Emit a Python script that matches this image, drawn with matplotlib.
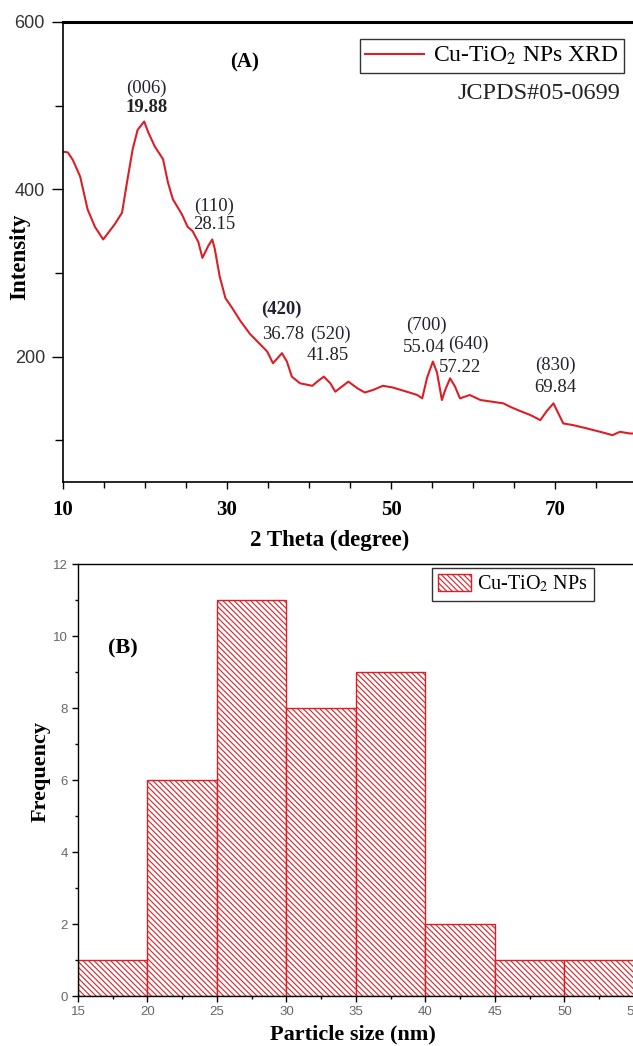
import matplotlib
matplotlib.use("Agg")
import matplotlib.pyplot as plt
from matplotlib.ticker import MultipleLocator

plt.rcParams['font.family'] = ['Liberation Serif', 'DejaVu Serif']
plt.rcParams['mathtext.fontset'] = 'stix'
plt.rcParams['hatch.linewidth'] = 0.8

# XRD pattern (2 theta in degree, intensity)
two_theta = [10.0, 10.6, 11.2, 11.7, 12.1, 13.0, 13.9, 14.9, 16.3, 17.2, 17.8,
             18.5, 19.1, 19.9, 20.4, 21.2, 22.2, 22.8, 23.4, 24.5, 25.2, 25.8,
             26.5, 27.0, 27.7, 28.2, 28.5, 29.1, 29.8, 30.7, 31.6, 32.8, 33.7,
             34.9, 35.6, 36.7, 37.3, 37.9, 38.9, 40.4, 41.0, 41.8, 42.6, 43.2,
             44.0, 44.8, 45.9, 46.8, 47.8, 49.0, 50.2, 51.9, 53.2, 53.8, 54.4,
             55.1, 55.6, 56.2, 56.6, 57.2, 57.8, 58.4, 59.6, 60.9, 62.3, 63.7,
             64.5, 65.7, 67.0, 68.2, 69.0, 69.8, 70.4, 71.0, 72.2, 73.9, 75.5,
             77.0, 77.9, 79.1, 80.0]
intensity = [445, 444, 435, 424, 415, 376, 355, 340, 358, 372, 408,
             448, 471, 481, 468, 451, 436, 408, 388, 370, 355, 350,
             337, 318, 332, 340, 329, 296, 270, 257, 243, 227, 218,
             206, 192, 204, 194, 176, 168, 165, 170, 176, 168, 158,
             164, 170, 162, 157, 160, 165, 163, 158, 154, 150, 175,
             194, 181, 148, 160, 174, 164, 150, 154, 148, 146, 144,
             140, 135, 130, 124, 135, 144, 132, 120, 118, 114, 110,
             106, 110, 108, 108]

# peak labels: (hkl) and position text, with where they sit
peak_hkl = ['(006)', '(110)', '(420)', '(520)', '(700)', '(640)', '(830)']
peak_val = ['19.88', '28.15', '36.78', '41.85', '55.04', '57.22', '69.84']
hkl_x = [20.2, 28.4, 36.6, 42.6, 54.3, 59.4, 70.1]
hkl_y = [521, 380, 256, 226, 237, 215, 189]
val_x = [20.2, 28.4, 36.9, 42.3, 54.0, 58.4, 70.0]
val_y = [498, 358, 226, 201, 211, 187, 163]
hkl_bold = [False, False, True, False, False, False, False]
val_bold = [True, False, False, False, False, False, False]

# particle size histogram
bin_left = [15, 20, 25, 30, 35, 40, 45, 50]
counts = [1, 6, 11, 8, 9, 2, 1, 1]
bin_width = 5

red = '#dc1f26'

fig = plt.figure(figsize=(6.33, 10.46), dpi=100)

# ---------- (A) XRD ----------
ax1 = fig.add_axes([0.0995, 0.5392, 0.907, 0.4398])
ax1.plot(two_theta, intensity, color=red, lw=1.5, label='Cu-TiO$_2$ NPs XRD')
ax1.set_xlim(10, 80)
ax1.set_ylim(50, 600)
ax1.set_xticks([10, 30, 50, 70])
ax1.xaxis.set_minor_locator(MultipleLocator(5))
ax1.yaxis.set_major_locator(MultipleLocator(200))
ax1.yaxis.set_minor_locator(MultipleLocator(100))
ax1.spines['right'].set_visible(False)
ax1.spines['top'].set_linewidth(2.2)
ax1.spines['left'].set_linewidth(1.2)
ax1.spines['bottom'].set_linewidth(1.2)
ax1.tick_params(which='both', direction='out', top=False, right=False)
ax1.tick_params(axis='x', which='major', length=5, width=1)
ax1.tick_params(axis='x', which='minor', length=4, width=1)
ax1.tick_params(axis='y', which='major', length=8, width=1)
ax1.tick_params(axis='y', which='minor', length=6, width=1)
ax1.tick_params(axis='y', labelsize=13, labelcolor='#333333', pad=5)
for lab in ax1.get_yticklabels():
    lab.set_family('Liberation Sans')
ax1.tick_params(axis='x', labelsize=15, pad=8)
for lab in ax1.get_xticklabels():
    lab.set_fontweight('bold')
ax1.set_xlabel('2 Theta (degree)', fontsize=16.5, fontweight='bold')
ax1.xaxis.set_label_coords(0.465, -0.104)
ax1.set_ylabel('Intensity', fontsize=16.5, fontweight='bold')
ax1.yaxis.set_label_coords(-0.058, 0.49)

leg1 = ax1.legend(loc='upper right', bbox_to_anchor=(0.977, 0.963),
                  borderaxespad=0, fancybox=False, edgecolor='black',
                  fontsize=17, handlelength=2.5, handletextpad=0.35,
                  borderpad=0.25)
leg1.get_frame().set_linewidth(1.0)

ax1.text(32.1, 551, '(A)', fontsize=15, fontweight='bold',
         ha='center', va='center')
ax1.text(77.9, 515, 'JCPDS#05-0699', fontsize=17.5, ha='right', va='center',
         color='#222222')
for h, v, hx, hy, vx, vy, hb, vb in zip(peak_hkl, peak_val, hkl_x, hkl_y,
                                        val_x, val_y, hkl_bold, val_bold):
    ax1.text(hx, hy, h, fontsize=13.5, ha='center', va='center',
             color='#222233', fontweight='bold' if hb else 'normal')
    ax1.text(vx, vy, v, fontsize=13.5, ha='center', va='center',
             color='#222222', fontweight='bold' if vb else 'normal')

# ---------- (B) histogram ----------
ax2 = fig.add_axes([0.1232, 0.0478, 0.878, 0.413])
ax2.bar(bin_left, counts, width=bin_width, align='edge', color='white',
        edgecolor=red, hatch='\\\\\\\\\\\\', linewidth=1.0,
        label='Cu-TiO$_2$ NPs')
ax2.set_xlim(15, 55)
ax2.set_ylim(0, 12)
ax2.xaxis.set_major_locator(MultipleLocator(5))
ax2.xaxis.set_minor_locator(MultipleLocator(2.5))
ax2.yaxis.set_major_locator(MultipleLocator(2))
ax2.yaxis.set_minor_locator(MultipleLocator(1))
ax2.spines['right'].set_visible(False)
for s in ['top', 'left', 'bottom']:
    ax2.spines[s].set_linewidth(1.0)
ax2.tick_params(which='both', direction='out', top=False, right=False)
ax2.tick_params(which='major', length=4, width=1)
ax2.tick_params(which='minor', length=2, width=1)
ax2.tick_params(labelsize=9.5, labelcolor='#666666')
for lab in ax2.get_xticklabels() + ax2.get_yticklabels():
    lab.set_family('Liberation Sans')
ax2.set_xlabel('Particle size (nm)', fontsize=16, fontweight='bold')
ax2.xaxis.set_label_coords(0.495, -0.066)
ax2.set_ylabel('Frequency', fontsize=16, fontweight='bold')
ax2.yaxis.set_label_coords(-0.05, 0.52)
ax2.text(18.2, 9.64, '(B)', fontsize=16, fontweight='bold',
         ha='center', va='center')

leg2 = ax2.legend(loc='upper right', bbox_to_anchor=(0.928, 0.991),
                  borderaxespad=0, fancybox=False, edgecolor='black',
                  fontsize=14.5, handlelength=1.65, handleheight=0.9,
                  handletextpad=0.3, borderpad=0.3)
leg2.get_frame().set_linewidth(1.0)

fig.savefig('out.png', dpi=100)
